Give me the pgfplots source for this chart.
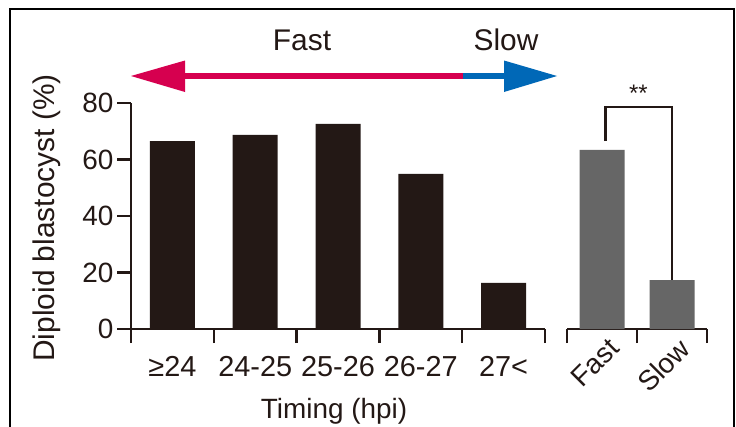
\documentclass[border=0pt]{standalone}
\usepackage{fontspec}
\setmainfont{Liberation Sans}
\usepackage{pgfplots}
\pgfplotsset{compat=1.18}
\definecolor{barblack}{HTML}{231815}
\definecolor{bargrey}{HTML}{666666}
\definecolor{fastred}{HTML}{D6004F}
\definecolor{slowblue}{HTML}{0068B7}
\pgfplotsset{
  panel/.style={
    scale only axis, height=226bp,
    ymin=0, ymax=80,
    axis x line*=bottom,
    axis line style={line width=2.5bp, draw=barblack},
    tick align=outside,
    major tick length=14bp, minor tick length=14bp,
    tick style={line width=2.5bp, draw=barblack},
    major x tick style={draw=none},
    /pgf/number format/assume math mode=true,
    xticklabel style={font=\fontsize{29}{29}\selectfont, text=barblack},
    yticklabel style={font=\fontsize{28}{28}\selectfont, text=barblack},
  }
}
\begin{document}
\begin{tikzpicture}
\useasboundingbox (0,0) rectangle (736bp,-427bp);
\draw[line width=2bp, black] (10bp,-440bp) -- (10bp,-9bp) -- (734bp,-9bp) -- (734bp,-440bp);

% left panel
\begin{axis}[panel,
  at={(131bp,-329bp)}, anchor=south west,
  width=414bp,
  xmin=-0.5, xmax=4.5,
  axis y line*=left,
  ytick={0,20,40,60,80},
  xtick={0,1,2,3,4},
  xticklabels={≥24,24-25,25-26,26-27,27<},
  xticklabel style={yshift=-10bp},
  minor xtick={-0.5,0.5,1.5,2.5,3.5,4.5},
]
\addplot[ybar, bar width=45bp, fill=barblack, draw=none]
  coordinates {(0,66.5) (1,68.7) (2,72.6) (3,54.9) (4,16.3)};
\end{axis}

% right panel
\begin{axis}[panel,
  at={(567bp,-329bp)}, anchor=south west,
  width=140bp,
  xmin=-0.5, xmax=1.5,
  axis y line=none,
  clip=false,
  xtick={0,1},
  xticklabels={Fast,Slow},
  minor xtick={-0.5,0.5,1.5},
  xticklabel style={font=\fontsize{28}{28}\selectfont, rotate=45, anchor=north east, xshift=12bp, yshift=4bp},
]
\addplot[ybar, bar width=45bp, fill=bargrey, draw=none]
  coordinates {(0,63.4) (1,17.3)};
\draw[line width=2.2bp, barblack] (axis cs:0.05,66.5) -- (axis cs:0.05,78.6) -- (axis cs:1,78.6) -- (axis cs:1,17.3);
\node[anchor=base, font=\fontsize{24}{24}\selectfont, text=barblack] at (axis cs:0.52,80.5) {**};
\end{axis}

% header arrow
\draw[line width=6.5bp, fastred] (180bp,-76bp) -- (464bp,-76bp);
\draw[line width=6.5bp, slowblue] (463bp,-76bp) -- (510bp,-76bp);
\fill[fastred] (131bp,-76bp) -- (185bp,-60.5bp) -- (185bp,-92bp) -- cycle;
\fill[slowblue] (557bp,-76bp) -- (504bp,-60.5bp) -- (504bp,-92bp) -- cycle;
\node[anchor=base, font=\fontsize{30}{30}\selectfont, text=barblack] at (302bp,-50bp) {Fast};
\node[anchor=base, font=\fontsize{30}{30}\selectfont, text=barblack] at (506bp,-50bp) {Slow};

% axis labels
\node[rotate=90, font=\fontsize{30}{30}\selectfont, text=barblack] at (47bp,-218bp) {Diploid blastocyst (\%)};
\node[anchor=base, font=\fontsize{28}{28}\selectfont, text=barblack] at (334bp,-418bp) {Timing (hpi)};
\end{tikzpicture}
\end{document}
